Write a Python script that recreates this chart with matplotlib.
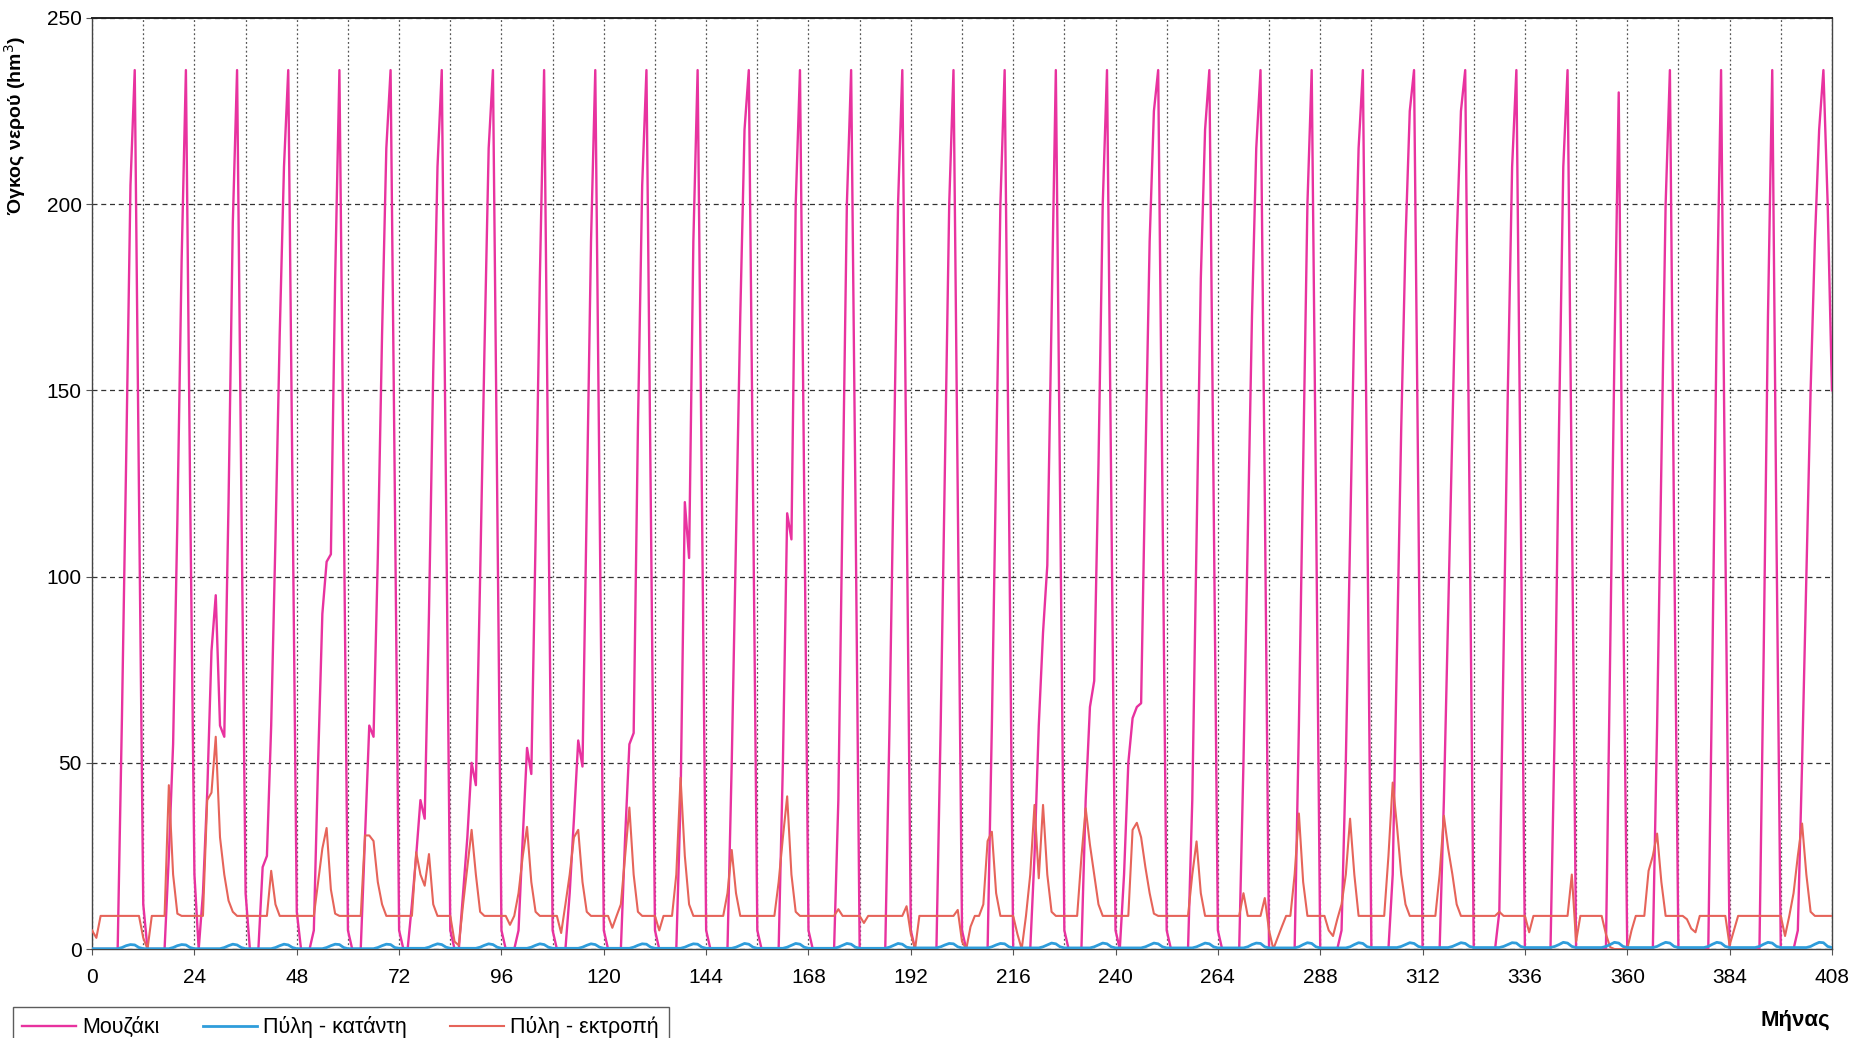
import numpy as np
import matplotlib.pyplot as plt
from matplotlib.ticker import MultipleLocator

plt.rcParams['font.family'] = ['Liberation Sans', 'DejaVu Sans']

# monthly values, one row per year (12 months), last value = month 408
mouzaki_rows = [
    [0, 0, 0, 0, 0, 0, 0, 62, 132, 205, 236, 122],
    [12, 0, 0, 0, 0, 0, 25, 55, 115, 185, 236, 122],
    [20, 0, 15, 42, 80, 95, 60, 57, 120, 195, 236, 122],
    [15, 0, 0, 0, 22, 25, 60, 110, 165, 210, 236, 122],
    [10, 0, 0, 0, 5, 50, 90, 104, 106, 180, 236, 122],
    [5, 0, 0, 0, 30, 60, 57, 105, 165, 215, 236, 122],
    [5, 0, 0, 12, 25, 40, 35, 90, 155, 210, 236, 122],
    [5, 0, 0, 15, 30, 50, 44, 100, 160, 215, 236, 122],
    [5, 0, 0, 0, 5, 30, 54, 47, 110, 180, 236, 122],
    [5, 0, 0, 0, 15, 35, 56, 49, 120, 190, 236, 122],
    [5, 0, 0, 0, 0, 30, 55, 58, 140, 205, 236, 122],
    [5, 0, 0, 0, 0, 0, 40, 120, 105, 190, 236, 122],
    [5, 0, 0, 0, 0, 0, 50, 110, 170, 220, 236, 122],
    [5, 0, 0, 0, 0, 0, 50, 117, 110, 200, 236, 122],
    [5, 0, 0, 0, 0, 0, 0, 40, 120, 200, 236, 122],
    [0, 0, 0, 0, 0, 0, 0, 60, 130, 200, 236, 122],
    [5, 0, 0, 0, 0, 0, 0, 60, 130, 200, 236, 122],
    [5, 0, 0, 0, 0, 0, 0, 60, 130, 200, 236, 122],
    [0, 0, 0, 0, 0, 25, 60, 85, 103, 170, 236, 122],
    [5, 0, 0, 0, 0, 40, 65, 72, 130, 200, 236, 122],
    [5, 0, 20, 50, 62, 65, 66, 130, 190, 225, 236, 122],
    [5, 0, 0, 0, 0, 0, 40, 110, 180, 220, 236, 122],
    [5, 0, 0, 0, 0, 0, 50, 110, 170, 215, 236, 122],
    [0, 0, 0, 0, 0, 0, 0, 60, 130, 200, 236, 122],
    [0, 0, 0, 0, 0, 5, 50, 110, 170, 215, 236, 122],
    [0, 0, 0, 0, 0, 20, 80, 140, 190, 225, 236, 122],
    [0, 0, 0, 0, 0, 40, 90, 140, 190, 225, 236, 122],
    [0, 0, 0, 0, 0, 0, 10, 80, 150, 210, 236, 122],
    [0, 0, 0, 0, 0, 0, 0, 60, 140, 210, 236, 122],
    [0, 0, 0, 0, 0, 0, 0, 0, 80, 160, 230, 100],
    [0, 0, 0, 0, 0, 0, 0, 60, 130, 200, 236, 110],
    [0, 0, 0, 0, 0, 0, 0, 0, 80, 170, 236, 110],
    [0, 0, 0, 0, 0, 0, 0, 0, 80, 170, 236, 110],
    [0, 0, 0, 0, 5, 50, 100, 150, 190, 220, 236, 200],
    [150],
]

ektropi_rows = [
    [5, 3, 8.9, 8.9, 8.9, 8.9, 8.9, 8.9, 8.9, 8.9, 8.9, 8.9],
    [3, 0, 8.9, 8.9, 8.9, 8.9, 44, 20, 9.5, 8.9, 8.9, 8.9],
    [8.9, 8.9, 8.9, 40, 42, 57, 30, 20, 13, 10, 8.9, 8.9],
    [8.9, 8.9, 8.9, 8.9, 8.9, 8.9, 21, 12, 8.9, 8.9, 8.9, 8.9],
    [8.9, 8.9, 8.9, 8.9, 8.9, 18, 27, 32.5, 16, 9.5, 8.9, 8.9],
    [8.9, 8.9, 8.9, 8.9, 30.5, 30.5, 29, 18, 12, 8.9, 8.9, 8.9],
    [8.9, 8.9, 8.9, 8.9, 26, 20, 17, 25.5, 12, 8.9, 8.9, 8.9],
    [8.9, 2, 1, 12, 22, 32, 20, 10, 8.9, 8.9, 8.9, 8.9],
    [8.9, 8.9, 6.5, 8.9, 15, 25, 32.8, 18, 10, 8.9, 8.9, 8.9],
    [8.9, 8.9, 4.3, 12, 20, 30, 32, 18, 10, 8.9, 8.9, 8.9],
    [8.9, 8.9, 5.7, 8.9, 12, 25, 38, 20, 10, 8.9, 8.9, 8.9],
    [8.9, 5, 8.9, 8.9, 8.9, 20, 46, 25, 12, 8.9, 8.9, 8.9],
    [8.9, 8.9, 8.9, 8.9, 8.9, 15, 26.6, 15, 8.9, 8.9, 8.9, 8.9],
    [8.9, 8.9, 8.9, 8.9, 8.9, 18, 30, 41, 20, 10, 8.9, 8.9],
    [8.9, 8.9, 8.9, 8.9, 8.9, 8.9, 8.9, 10.7, 8.9, 8.9, 8.9, 8.9],
    [8.9, 7, 8.9, 8.9, 8.9, 8.9, 8.9, 8.9, 8.9, 8.9, 8.9, 11.5],
    [4, 0, 8.9, 8.9, 8.9, 8.9, 8.9, 8.9, 8.9, 8.9, 8.9, 10.5],
    [2, 0, 6, 8.9, 8.9, 12, 29, 31.5, 15, 8.9, 8.9, 8.9],
    [8.9, 4, 0, 8.9, 20, 38.7, 19, 38.7, 20, 10, 8.9, 8.9],
    [8.9, 8.9, 8.9, 8.9, 24.7, 37.8, 28, 20, 12, 8.9, 8.9, 8.9],
    [8.9, 8.9, 8.9, 8.9, 32, 33.9, 30, 22, 15, 9.5, 8.9, 8.9],
    [8.9, 8.9, 8.9, 8.9, 8.9, 8.9, 20, 28.9, 15, 8.9, 8.9, 8.9],
    [8.9, 8.9, 8.9, 8.9, 8.9, 8.9, 15, 8.9, 8.9, 8.9, 8.9, 13.7],
    [5, 0, 3, 6, 8.9, 8.9, 20, 36.4, 18, 8.9, 8.9, 8.9],
    [8.9, 8.9, 5, 3.5, 8, 12, 20, 35, 20, 8.9, 8.9, 8.9],
    [8.9, 8.9, 8.9, 8.9, 25, 44.7, 33, 20, 12, 8.9, 8.9, 8.9],
    [8.9, 8.9, 8.9, 8.9, 20, 35.8, 27, 20, 12, 8.9, 8.9, 8.9],
    [8.9, 8.9, 8.9, 8.9, 8.9, 8.9, 10, 8.9, 8.9, 8.9, 8.9, 8.9],
    [8.9, 4.5, 8.9, 8.9, 8.9, 8.9, 8.9, 8.9, 8.9, 8.9, 8.9, 20],
    [2, 8.9, 8.9, 8.9, 8.9, 8.9, 8.9, 4, 0.5, 0, 0, 0],
    [0, 5, 8.9, 8.9, 8.9, 21, 25, 31, 18, 8.9, 8.9, 8.9],
    [8.9, 8.9, 8, 5.5, 4.5, 8.9, 8.9, 8.9, 8.9, 8.9, 8.9, 8.9],
    [1, 5, 8.9, 8.9, 8.9, 8.9, 8.9, 8.9, 8.9, 8.9, 8.9, 8.9],
    [8.9, 3.5, 8.9, 15, 25, 33.7, 20, 10, 8.9, 8.9, 8.9, 8.9],
    [8.9],
]

katanti_rows = [
    [0.1, 0.1, 0.1, 0.1, 0.1, 0.1, 0.1, 0.4, 0.9, 1.2, 1.1, 0.4],
    [0.1, 0.1, 0.1, 0.1, 0.1, 0.1, 0.1, 0.4, 0.9, 1.2, 1.1, 0.4],
    [0.1, 0.1, 0.1, 0.1, 0.1, 0.1, 0.1, 0.4, 0.9, 1.3, 1.1, 0.4],
    [0.1, 0.1, 0.1, 0.1, 0.1, 0.1, 0.1, 0.4, 0.9, 1.3, 1.1, 0.4],
    [0.1, 0.1, 0.1, 0.1, 0.1, 0.1, 0.1, 0.4, 0.9, 1.3, 1.2, 0.4],
    [0.1, 0.1, 0.1, 0.1, 0.1, 0.1, 0.1, 0.4, 0.9, 1.3, 1.2, 0.4],
    [0.2, 0.2, 0.2, 0.2, 0.2, 0.2, 0.2, 0.5, 1.0, 1.4, 1.2, 0.5],
    [0.2, 0.2, 0.2, 0.2, 0.2, 0.2, 0.2, 0.5, 1.0, 1.4, 1.2, 0.5],
    [0.2, 0.2, 0.2, 0.2, 0.2, 0.2, 0.2, 0.5, 1.0, 1.4, 1.2, 0.5],
    [0.2, 0.2, 0.2, 0.2, 0.2, 0.2, 0.2, 0.5, 1.0, 1.4, 1.2, 0.5],
    [0.2, 0.2, 0.2, 0.2, 0.2, 0.2, 0.2, 0.5, 1.0, 1.4, 1.3, 0.5],
    [0.2, 0.2, 0.2, 0.2, 0.2, 0.2, 0.2, 0.5, 1.0, 1.4, 1.3, 0.5],
    [0.2, 0.2, 0.2, 0.2, 0.2, 0.2, 0.2, 0.5, 1.0, 1.5, 1.3, 0.5],
    [0.2, 0.2, 0.2, 0.2, 0.2, 0.2, 0.2, 0.5, 1.0, 1.5, 1.3, 0.5],
    [0.2, 0.2, 0.2, 0.2, 0.2, 0.2, 0.2, 0.5, 1.0, 1.5, 1.3, 0.5],
    [0.2, 0.2, 0.2, 0.2, 0.2, 0.2, 0.2, 0.5, 1.0, 1.5, 1.3, 0.5],
    [0.3, 0.3, 0.3, 0.3, 0.3, 0.3, 0.3, 0.6, 1.1, 1.5, 1.4, 0.6],
    [0.3, 0.3, 0.3, 0.3, 0.3, 0.3, 0.3, 0.6, 1.1, 1.5, 1.4, 0.6],
    [0.3, 0.3, 0.3, 0.3, 0.3, 0.3, 0.3, 0.6, 1.1, 1.6, 1.4, 0.6],
    [0.3, 0.3, 0.3, 0.3, 0.3, 0.3, 0.3, 0.6, 1.1, 1.6, 1.4, 0.6],
    [0.3, 0.3, 0.3, 0.3, 0.3, 0.3, 0.3, 0.6, 1.1, 1.6, 1.4, 0.6],
    [0.3, 0.3, 0.3, 0.3, 0.3, 0.3, 0.3, 0.6, 1.1, 1.6, 1.4, 0.6],
    [0.3, 0.3, 0.3, 0.3, 0.3, 0.3, 0.3, 0.6, 1.2, 1.6, 1.5, 0.6],
    [0.3, 0.3, 0.3, 0.3, 0.3, 0.3, 0.3, 0.6, 1.2, 1.7, 1.5, 0.6],
    [0.3, 0.3, 0.3, 0.3, 0.3, 0.3, 0.3, 0.6, 1.2, 1.7, 1.5, 0.6],
    [0.4, 0.4, 0.4, 0.4, 0.4, 0.4, 0.4, 0.7, 1.2, 1.7, 1.5, 0.7],
    [0.4, 0.4, 0.4, 0.4, 0.4, 0.4, 0.4, 0.7, 1.2, 1.7, 1.5, 0.7],
    [0.4, 0.4, 0.4, 0.4, 0.4, 0.4, 0.4, 0.7, 1.2, 1.7, 1.6, 0.7],
    [0.4, 0.4, 0.4, 0.4, 0.4, 0.4, 0.4, 0.7, 1.2, 1.8, 1.6, 0.7],
    [0.4, 0.4, 0.4, 0.4, 0.4, 0.4, 0.4, 0.7, 1.2, 1.8, 1.6, 0.7],
    [0.4, 0.4, 0.4, 0.4, 0.4, 0.4, 0.4, 0.7, 1.3, 1.8, 1.6, 0.7],
    [0.4, 0.4, 0.4, 0.4, 0.4, 0.4, 0.4, 0.7, 1.3, 1.8, 1.6, 0.7],
    [0.4, 0.4, 0.4, 0.4, 0.4, 0.4, 0.4, 0.7, 1.3, 1.8, 1.6, 0.7],
    [0.4, 0.4, 0.4, 0.4, 0.4, 0.4, 0.4, 0.7, 1.3, 1.8, 1.7, 0.7],
    [0.4],
]

series_names = ['Μουζάκι', 'Πύλη - κατάντη', 'Πύλη - εκτροπή']

mouzaki = np.concatenate(mouzaki_rows)
katanti = np.concatenate(katanti_rows)
ektropi = np.concatenate(ektropi_rows)
months = np.arange(len(mouzaki))

fig = plt.figure(figsize=(18.64, 10.38), dpi=100)
ax = fig.add_axes([0.0494, 0.0857, 0.9334, 0.897])

l1, = ax.plot(months, mouzaki, color='#e8329f', lw=1.7, zorder=3)
l2, = ax.plot(months, katanti, color='#2f9ddb', lw=2.0, zorder=4)
l3, = ax.plot(months, ektropi, color='#e6645a', lw=1.5, zorder=3)

ax.set_xlim(0, 408)
ax.set_ylim(0, 250)
ax.xaxis.set_major_locator(MultipleLocator(24))
ax.xaxis.set_minor_locator(MultipleLocator(12))
ax.yaxis.set_major_locator(MultipleLocator(50))
ax.grid(axis='y', which='major', ls=(0, (4, 3)), color='#333333', lw=0.9)
ax.grid(axis='x', which='both', ls=(0, (1.5, 2)), color='#555555', lw=0.9)
ax.tick_params(axis='both', which='major', labelsize=15, length=4, color='#555555')
ax.tick_params(axis='x', which='major', pad=10)
ax.tick_params(axis='x', which='minor', length=0)
for s in ax.spines.values():
    s.set_color('#444444')
    s.set_linewidth(1.0)
ax.spines['top'].set_color('#222222')
ax.spines['top'].set_linewidth(1.4)

ax.set_ylabel('Όγκος νερού (hm$^3$)', fontsize=14, fontweight='bold',
              family=['Liberation Sans Narrow', 'Liberation Sans'])
ax.yaxis.set_label_coords(-0.037, 0.885)

fig.text(0.963, 0.017, 'Μήνας', fontsize=16, fontweight='bold', ha='center', va='center')

leg = fig.legend([l1, l2, l3], series_names, loc='lower left', bbox_to_anchor=(0.001, -0.02),
                 ncol=3, frameon=True, fancybox=False, edgecolor='#333333', fontsize=15.5,
                 handlelength=2.5, columnspacing=2.0, borderpad=0.45, handletextpad=0.3)
leg.get_frame().set_linewidth(1.0)

fig.savefig('out.png', dpi=100)
